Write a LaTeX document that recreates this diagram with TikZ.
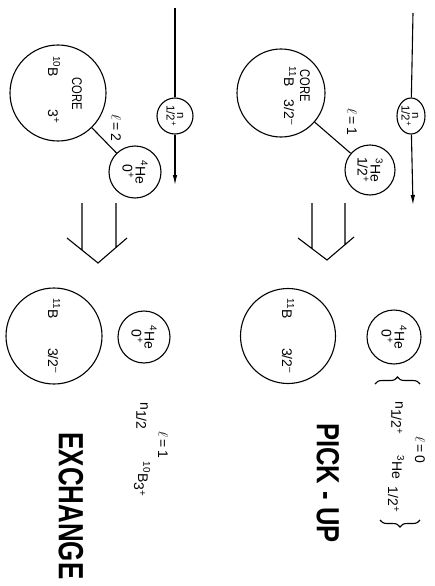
\documentclass[tikz,border=0pt]{standalone}
\usepackage{fontspec}
\setmainfont{Liberation Sans}
\usetikzlibrary{shapes.geometric,arrows.meta,decorations.pathreplacing}
\newcommand{\cnd}[1]{\scalebox{0.8}[1]{#1}}
\newcommand{\lw}[1]{\raisebox{-4pt}{#1}}
\begin{document}
\begin{tikzpicture}[x=1pt,y=-1pt,line width=1.1pt,
  part/.style={circle,draw,inner sep=0pt,minimum size=#1},
  lab/.style={rotate=-90,inner sep=0pt,align=center,font=\fontsize{14}{13}\selectfont},
  sml/.style={rotate=-90,inner sep=0pt,align=center,font=\fontsize{11.5}{10.5}\selectfont},
  title/.style={rotate=-90,inner sep=0pt,font=\bfseries\fontsize{#1}{#1}\selectfont},
  beam/.style={-{Latex[length=10pt,width=4.5pt]}},
  brc/.style={decorate,decoration={brace,amplitude=7pt}}]
\useasboundingbox (0,0) rectangle (434,586);
\fill[white] (0,0) rectangle (434,586);
% ---------------- EXCHANGE (left) ----------------
\coordinate (lsL) at (175,8);
\coordinate (leL) at (175,185);
\node[part=36,sml] (nL) at (175,116) {n\\1/2\textsuperscript{+}};
\draw (lsL) -- (nL);
\draw[beam] (nL) -- (leL);
\node[part=96] (cL) at (58,93) {};
\node[lab] (cLa) at (77,94) {\cnd{CORE}};
\node[lab] (cLb) at (54,90) {\textsuperscript{10}B\hspace{2.3em}3\textsuperscript{+}};
\node[part=52,lab] (hL) at (135,172) {\textsuperscript{4}He\\0\textsuperscript{+}};
\draw (cL) -- (hL);
\node[lab] (l2L) at (116,128) {$\ell$\,=\,2};
\draw (82,203) -- (82,250) (67,238) -- (98,263) -- (127,238) (116,203) -- (116,247);
\node[part=96,lab] (bL) at (54,336) {\textsuperscript{11}B\hspace{2.1em}3/2\textsuperscript{--}};
\node[part=52,lab] (h2L) at (144,337) {\textsuperscript{4}He\\0\textsuperscript{+}};
\node[lab] (nhL) at (142,416) {n\lw{1/2}};
\node[lab] (l1L) at (163,445) {$\ell$\,=\,1};
\node[lab] (b10L) at (142,479) {\textsuperscript{10}B\lw{3\textsuperscript{+}}};
\node[title=35] (ex) at (71,506) {\scalebox{0.74}[1]{EXCHANGE}};
% ---------------- PICK-UP (right) ----------------
\coordinate (lsR) at (413,13);
\coordinate (leR) at (413,205);
\node[draw,ellipse,minimum width=28pt,minimum height=36pt,inner sep=0pt] (nR) at (411,116) {};
\node[sml] (nRt) at (410,116) {n\\1/2\textsuperscript{+}};
\draw (lsR) -- (nR);
\draw[beam] (nR) -- (leR);
\node[part=88] (cR) at (281,93) {};
\node[lab] (cRa) at (305,86) {\cnd{CORE}};
\node[lab] (cRb) at (290,96) {\textsuperscript{11}B\hspace{0.9em}3/2\textsuperscript{--}};
\node[part=50,lab] (hR) at (370,170) {\textsuperscript{3}He\\1/2\textsuperscript{+}};
\draw (cR) -- (hR);
\node[lab] (l1R) at (352,122) {$\ell$\,=\,1};
\draw (312,203) -- (312,249) (298,238) -- (327,260) -- (354,237) (345,203) -- (345,245);
\node[part=95,lab] (bR) at (288,336) {\textsuperscript{11}B\hspace{2.1em}3/2\textsuperscript{--}};
\node[part=54,lab] (h2R) at (394,337) {\textsuperscript{4}He\\0\textsuperscript{+}};
\coordinate (b1a) at (375,384);
\coordinate (b1b) at (420,384);
\coordinate (b2a) at (420,520);
\coordinate (b2b) at (380,520);
\draw[brc] (b1a) -- (b1b);
\draw[brc] (b2a) -- (b2b);
\node[lab] (nR2) at (397,418) {n\lw{1/2\textsuperscript{+}}};
\node[lab] (l0R) at (420,450) {$\ell$\,=\,0};
\node[lab] (he3R) at (396,484) {\textsuperscript{3}He\hspace{0.5em}\lw{1/2\textsuperscript{+}}};
\node[title=32] (pu) at (328,483) {\scalebox{0.8}[1]{PICK - UP}};
\end{tikzpicture}
\end{document}
